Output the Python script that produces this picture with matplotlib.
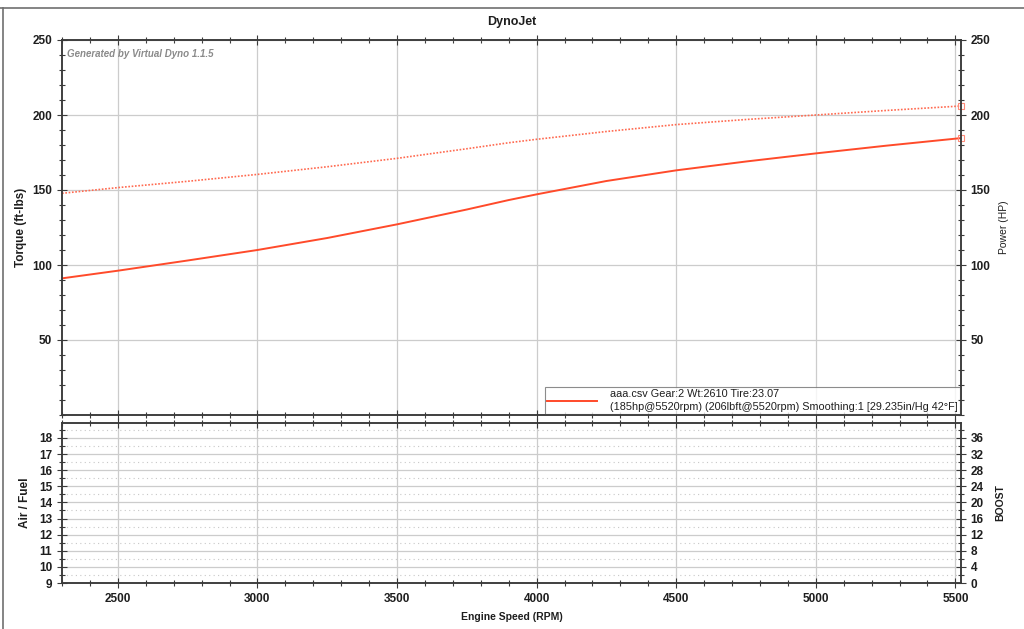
import matplotlib
matplotlib.use("Agg")
import matplotlib.pyplot as plt
from matplotlib.ticker import MultipleLocator, FixedLocator
from matplotlib.lines import Line2D

plt.rcParams['font.family'] = ['Liberation Sans', 'DejaVu Sans']

# ---- data ----
rpm = [2300, 2500, 2750, 3000, 3250, 3500, 3750, 3900, 4000, 4250, 4500, 4750, 5000, 5250, 5520]
power_hp = [91.1, 96.2, 103.0, 110.0, 118.0, 127.1, 137.0, 143.3, 147.1, 156.0, 163.1, 169.0, 174.4, 179.5, 184.6]
torque_ftlb = [147.8, 151.6, 155.8, 160.4, 165.5, 171.1, 177.5, 181.5, 183.8, 189.0, 193.6, 197.0, 200.0, 203.0, 206.0]
x_ticks = [2500, 3000, 3500, 4000, 4500, 5000, 5500]
top_yticks = [50, 100, 150, 200, 250]
afr_ticks = [9, 10, 11, 12, 13, 14, 15, 16, 17, 18]
boost_ticks = [0, 4, 8, 12, 16, 20, 24, 28, 32, 36]
legend_label = ("aaa.csv Gear:2 Wt:2610 Tire:23.07\n"
                "(185hp@5520rpm) (206lbft@5520rpm) Smoothing:1 [29.235in/Hg 42\u00b0F]")

RED = '#ff4a2a'
SPINE = '#3a3a3a'
GRID = '#cccccc'
TXT = '#1e1e1e'

fig = plt.figure(figsize=(10.24, 6.29), dpi=100)

L, R = 62/1024, 961/1024
ax = fig.add_axes([L, 1-415/629, R-L, (415-40)/629])
axb = fig.add_axes([L, 1-583/629, R-L, (583-423)/629])

# frame lines of the image
fig.add_artist(Line2D([0, 1], [1-8/629, 1-8/629], color='#707070', lw=1.2))
fig.add_artist(Line2D([3/1024, 3/1024], [0, 1-8/629], color='#707070', lw=1.2))

fig.text(0.5, 1-22/629, "DynoJet", ha='center', va='center', fontsize=9, fontweight='bold', color=TXT)

def style(a):
    for s in a.spines.values():
        s.set_color(SPINE)
        s.set_linewidth(1.1)
    a.tick_params(which='both', direction='inout', colors=SPINE, labelcolor=TXT,
                  labelsize=8.5, width=0.8, top=True)
    a.tick_params(which='major', length=7)
    a.tick_params(which='minor', length=4)
    for lab in a.get_xticklabels() + a.get_yticklabels():
        lab.set_fontweight('bold')

# ---- top axes ----
ax.set_xlim(2300, 5520)
ax.set_ylim(0, 250)
ax.xaxis.set_major_locator(FixedLocator(x_ticks))
ax.xaxis.set_minor_locator(MultipleLocator(100))
ax.yaxis.set_major_locator(FixedLocator(top_yticks))
ax.yaxis.set_minor_locator(MultipleLocator(10))
ax.set_xticklabels([])
ax.grid(True, which='major', color=GRID, lw=0.9)
ax.set_axisbelow(True)

ax.plot(rpm, power_hp, color=RED, lw=1.4, solid_capstyle='round')
ax.plot(rpm, torque_ftlb, color='#ff6a50', lw=1.2, linestyle=(0, (1, 1)))
ax.plot([rpm[-1]], [power_hp[-1]], marker='s', ms=5, mfc='none', mec='#ff8a78', mew=0.8, clip_on=False)
ax.plot([rpm[-1]], [torque_ftlb[-1]], marker='s', ms=5, mfc='none', mec='#ff8a78', mew=0.8, clip_on=False)

ax.set_ylabel("Torque (ft-lbs)", fontsize=8.5, fontweight='bold', color=TXT, labelpad=4)
style(ax)

ax.text(0.006, 0.975, "Generated by Virtual Dyno 1.1.5", transform=ax.transAxes,
        fontsize=7, fontstyle='italic', fontweight='bold', color='#8a8a8a', va='top', ha='left')

leg = ax.legend([Line2D([0], [0], color=RED, lw=1.4)], [legend_label], loc='lower right',
                bbox_to_anchor=(1.0, 0.0), borderaxespad=0.1, fontsize=7.8, frameon=True,
                fancybox=False, handlelength=4.6, handletextpad=1.2, borderpad=0.2,
                labelspacing=0.2)
leg.get_frame().set_edgecolor('#707070')
leg.get_frame().set_linewidth(0.8)
for t in leg.get_texts():
    t.set_color(TXT)
    t.set_linespacing(1.3)

axr = ax.twinx()
axr.set_ylim(0, 250)
axr.yaxis.set_major_locator(FixedLocator(top_yticks))
axr.yaxis.set_minor_locator(MultipleLocator(10))
axr.set_ylabel("Power (HP)", fontsize=7.5, color=TXT, labelpad=6)
style(axr)

# ---- bottom axes ----
axb.set_xlim(2300, 5520)
axb.set_ylim(9, 18.93)
axb.xaxis.set_major_locator(FixedLocator(x_ticks))
axb.xaxis.set_minor_locator(MultipleLocator(100))
axb.yaxis.set_major_locator(FixedLocator(afr_ticks))
axb.yaxis.set_minor_locator(MultipleLocator(0.5))
axb.grid(True, which='major', color=GRID, lw=0.9)
axb.grid(True, which='minor', axis='y', color='#c8c8c8', lw=0.8, linestyle=(0, (1, 3)))
axb.set_axisbelow(True)
axb.set_ylabel("Air / Fuel", fontsize=8.5, fontweight='bold', color=TXT, labelpad=6)
axb.set_xlabel("Engine Speed (RPM)", fontsize=7.5, fontweight='bold', color=TXT, labelpad=5)
style(axb)

axbr = axb.twinx()
axbr.set_ylim(0, 39.72)
axbr.yaxis.set_major_locator(FixedLocator(boost_ticks))
axbr.yaxis.set_minor_locator(MultipleLocator(2))
axbr.set_ylabel("BOOST", fontsize=7.5, fontweight='bold', color=TXT, labelpad=8)
style(axbr)

fig.savefig("out.png", dpi=100)
